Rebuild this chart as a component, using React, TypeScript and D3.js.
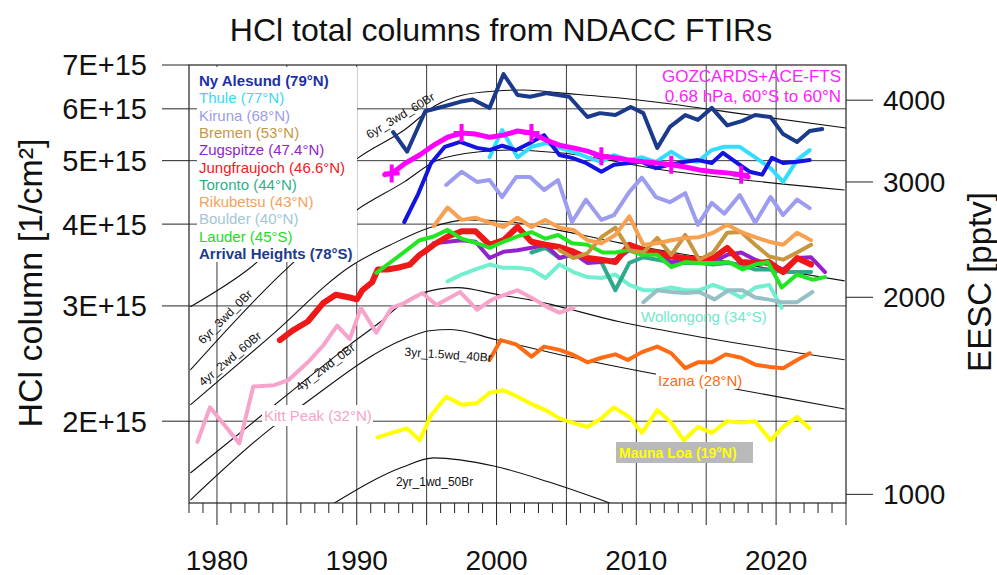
import React from "react";
import * as d3 from "d3";

const FONT = "'Liberation Sans', Arial, Helvetica, sans-serif";

// ---------- axes ----------
const yearLabels = [1980, 1990, 2000, 2010, 2020];
const gridYears = [1980, 1985, 1990, 1995, 2000, 2005, 2010, 2015, 2020];
const hclTicks = [2, 3, 4, 5, 6, 7]; // x 1E+15 molec/cm2
const hclGrid = [2, 3, 4, 5, 6];
const eescTicks = [1000, 2000, 3000, 4000];
const EESC_PER_HCL = 646.7; // right axis (pptv) per 1E+15 on left axis

// ---------- FTIR series (HCl total column, 1E+15 molec/cm2) ----------
const arrivalYears = [1992.6, 1993.6, 1994.9, 1996.2, 1997.4, 1998.3, 1999.5, 2000.5, 2001.5, 2002.4, 2003.6, 2005.2, 2006.5, 2007.4, 2008.5, 2009.6, 2010.5, 2011.5, 2012.4, 2013.5, 2014.4, 2015.4, 2016.5, 2017.6, 2018.5, 2019.6, 2020.5, 2021.5, 2022.4, 2023.3];
const arrivalHCl = [5.53, 5.16, 5.95, 6.05, 6.15, 6.2, 6.02, 6.78, 6.3, 6.26, 6.34, 6.26, 5.83, 5.91, 5.87, 6.04, 5.91, 5.23, 5.63, 5.87, 5.77, 6.02, 5.66, 5.75, 5.87, 5.83, 5.49, 5.34, 5.55, 5.59];

const nyYears = [1993.4, 1994.4, 1995.3, 1996.3, 1997.4, 1998.6, 1999.5, 2000.4, 2001.4, 2002.4, 2003.4, 2004.5, 2005.4, 2006.4, 2007.5, 2008.4, 2009.5, 2010.4, 2011.4, 2012.4, 2013.5, 2014.4, 2015.4, 2016.2, 2017.2, 2018.1, 2019.0, 2019.7, 2020.5, 2021.5, 2022.4];
const nyHCl = [4.03, 4.45, 4.95, 5.25, 5.34, 5.23, 5.19, 5.27, 5.19, 5.32, 5.47, 5.1, 5.05, 4.96, 4.81, 4.93, 4.96, 4.98, 4.87, 4.93, 4.98, 5.01, 4.96, 5.14, 4.96, 4.81, 4.76, 5.05, 4.96, 4.98, 5.01];

const thuleYears = [1999.5, 2000.4, 2001.5, 2002.5, 2003.6, 2004.5, 2005.7, 2006.6, 2007.5, 2008.4, 2009.5, 2010.4, 2011.4, 2012.5, 2013.5, 2014.4, 2015.4, 2016.3, 2017.4, 2018.5, 2019.6, 2020.5, 2021.5, 2022.4];
const thuleHCl = [5.06, 5.57, 5.06, 5.25, 5.32, 5.23, 5.14, 5.05, 4.98, 5.1, 5.01, 5.06, 4.98, 5.16, 5.01, 4.98, 5.19, 5.25, 5.25, 5.06, 4.87, 4.64, 5.01, 5.19];

const kirunaYears = [1996.4, 1997.5, 1998.6, 1999.5, 2000.4, 2001.4, 2002.4, 2003.4, 2004.4, 2005.4, 2006.4, 2007.5, 2008.4, 2009.5, 2010.4, 2011.4, 2012.4, 2013.5, 2014.4, 2015.4, 2016.3, 2017.4, 2018.5, 2019.6, 2020.5, 2021.5, 2022.4];
const kirunaHCl = [4.59, 4.81, 4.64, 4.67, 4.4, 4.72, 4.72, 4.51, 4.67, 4.03, 4.36, 4.06, 4.13, 4.48, 4.71, 4.4, 4.32, 4.46, 3.99, 4.31, 4.15, 4.43, 4.02, 4.4, 4.13, 4.36, 4.23];

const bremenYears = [2004.5, 2005.5, 2006.5, 2007.5, 2008.5, 2009.5, 2010.5, 2011.5, 2012.5, 2013.5, 2014.5, 2015.5, 2016.5, 2017.5, 2018.5, 2019.5, 2020.5, 2021.5, 2022.5];
const bremenHCl = [3.65, 3.55, 3.61, 3.82, 3.95, 3.65, 3.62, 3.81, 3.59, 3.85, 3.53, 3.62, 3.88, 3.89, 3.72, 3.57, 3.53, 3.62, 3.72];

const zugYears = [1995.5, 1996.5, 1997.5, 1998.5, 1999.5, 2000.5, 2001.5, 2002.5, 2003.5, 2004.5, 2005.5, 2006.5, 2007.5, 2008.5, 2009.5, 2010.5, 2011.5, 2012.5, 2013.5, 2014.5, 2015.5, 2016.5, 2017.5, 2018.5, 2019.5, 2020.5, 2021.5, 2022.5, 2023.5];
const zugHCl = [3.74, 3.76, 3.78, 3.76, 3.55, 3.63, 3.65, 3.68, 3.72, 3.55, 3.61, 3.49, 3.5, 3.53, 3.65, 3.62, 3.61, 3.5, 3.53, 3.55, 3.5, 3.59, 3.62, 3.53, 3.47, 3.41, 3.55, 3.56, 3.38];

const jfjYears = [1984.5, 1985.4, 1986.5, 1987.6, 1988.5, 1989.5, 1990.0, 1990.4, 1991.1, 1991.5, 1992.2, 1992.9, 1993.8, 1994.5, 1995.0, 1995.5, 1996.5, 1997.5, 1998.5, 1999.5, 2000.5, 2001.5, 2002.5, 2003.5, 2004.5, 2005.5, 2006.5, 2007.5, 2008.5, 2009.5, 2010.5, 2011.5, 2012.5, 2013.5, 2014.5, 2015.5, 2016.5, 2017.5, 2018.5, 2019.5, 2020.5, 2021.5, 2022.5];
const jfjHCl = [2.66, 2.75, 2.84, 3.03, 3.12, 3.09, 3.07, 3.17, 3.26, 3.41, 3.41, 3.43, 3.47, 3.59, 3.65, 3.72, 3.83, 3.9, 3.9, 3.72, 3.78, 3.96, 3.76, 3.72, 3.69, 3.63, 3.55, 3.53, 3.5, 3.72, 3.65, 3.62, 3.57, 3.55, 3.53, 3.55, 3.68, 3.5, 3.49, 3.5, 3.38, 3.55, 3.47];

const torontoYears = [2002.5, 2003.5, 2004.5, 2005.5, 2006.5, 2007.5, 2008.5, 2009.5, 2010.5, 2011.5, 2012.5, 2013.5, 2014.5, 2015.5, 2016.5, 2017.5, 2018.5, 2019.5, 2020.5, 2021.5, 2022.5];
const torontoHCl = [3.62, 3.68, 3.55, 3.59, 3.56, 3.5, 3.17, 3.49, 3.56, 3.53, 3.49, 3.49, 3.49, 3.47, 3.49, 3.47, 3.41, 3.41, 3.38, 3.38, 3.38];

const rikuYears = [1995.5, 1996.5, 1997.5, 1998.5, 1999.5, 2000.5, 2001.5, 2002.5, 2003.5, 2004.5, 2005.5, 2006.5, 2007.5, 2008.5, 2009.5, 2010.5, 2011.5, 2012.5, 2013.5, 2014.5, 2015.5, 2016.5, 2017.5, 2018.5, 2019.5, 2020.5, 2021.5, 2022.5];
const rikuHCl = [3.97, 4.24, 4.06, 4.09, 4.02, 3.96, 4.09, 3.96, 4.06, 3.95, 3.92, 3.78, 3.74, 3.85, 4.11, 3.72, 3.74, 3.78, 3.81, 3.82, 3.88, 3.99, 3.89, 3.82, 3.76, 3.72, 3.88, 3.78];

const boulderYears = [2010.5, 2011.5, 2012.5, 2013.5, 2014.5, 2015.6, 2016.6, 2017.6, 2018.5, 2019.4, 2020.4, 2021.5, 2022.6];
const boulderHCl = [3.04, 3.17, 3.15, 3.14, 3.15, 3.07, 3.17, 3.17, 3.09, 3.07, 3.04, 3.04, 3.15];

const lauderYears = [1991.4, 1992.9, 1994.5, 1995.5, 1996.5, 1997.5, 1998.6, 1999.5, 2000.5, 2001.5, 2002.5, 2003.5, 2004.4, 2005.4, 2006.5, 2007.6, 2008.5, 2009.4, 2010.4, 2011.5, 2012.5, 2013.5, 2014.4, 2015.6, 2016.6, 2017.6, 2018.5, 2019.4, 2020.4, 2021.5, 2022.6, 2023.5];
const lauderHCl = [3.37, 3.56, 3.78, 3.83, 3.92, 3.8, 3.74, 3.68, 3.76, 3.83, 3.89, 3.8, 3.85, 3.74, 3.72, 3.62, 3.62, 3.65, 3.59, 3.59, 3.44, 3.5, 3.49, 3.49, 3.5, 3.41, 3.47, 3.5, 3.2, 3.35, 3.29, 3.32];

const wollYears = [1996.5, 1997.5, 1998.5, 1999.5, 2000.5, 2001.5, 2002.5, 2003.5, 2004.5, 2005.5, 2006.5, 2007.5, 2008.5, 2009.5, 2010.5, 2011.5, 2012.5, 2013.5, 2014.5, 2015.5, 2016.5, 2017.5, 2018.5, 2019.5, 2020.4];
const wollHCl = [3.27, 3.35, 3.41, 3.47, 3.43, 3.43, 3.41, 3.31, 3.47, 3.38, 3.32, 3.31, 3.35, 3.23, 3.17, 3.17, 3.2, 3.17, 3.17, 3.23, 3.17, 3.09, 3.2, 3.23, 2.98];

const kittYears = [1978.6, 1979.5, 1981.6, 1982.6, 1984.1, 1985.1, 1986.5, 1987.6, 1988.6, 1989.5, 1990.3, 1991.4, 1992.5, 1993.4, 1994.7, 1995.7, 1997.4, 1998.6, 1999.7, 2001.5, 2002.6, 2003.6, 2004.5, 2005.5];
const kittHCl = [1.86, 2.1, 1.85, 2.26, 2.27, 2.31, 2.46, 2.61, 2.8, 2.67, 2.98, 2.73, 2.98, 3.03, 3.14, 3.01, 3.15, 2.96, 3.07, 3.17, 3.08, 2.99, 2.93, 2.98];

const izanaYears = [1999.5, 2000.3, 2001.4, 2002.5, 2003.4, 2004.5, 2005.4, 2006.5, 2007.5, 2008.5, 2009.4, 2010.4, 2011.5, 2012.5, 2013.5, 2014.4, 2015.4, 2016.4, 2017.5, 2018.5, 2019.6, 2020.5, 2021.5, 2022.4];
const izanaHCl = [2.48, 2.66, 2.62, 2.51, 2.6, 2.57, 2.53, 2.46, 2.5, 2.53, 2.48, 2.55, 2.6, 2.54, 2.41, 2.46, 2.46, 2.53, 2.5, 2.44, 2.42, 2.41, 2.48, 2.54];

const maunaYears = [1991.5, 1992.5, 1993.6, 1994.5, 1995.3, 1996.4, 1997.5, 1998.6, 1999.5, 2000.5, 2001.5, 2002.4, 2003.5, 2004.5, 2005.4, 2006.5, 2007.5, 2008.4, 2009.5, 2010.4, 2011.5, 2012.5, 2013.4, 2014.4, 2015.4, 2016.5, 2017.5, 2018.5, 2019.6, 2020.5, 2021.5, 2022.4];
const maunaHCl = [1.89, 1.92, 1.95, 1.87, 2.04, 2.18, 2.12, 2.13, 2.21, 2.23, 2.18, 2.13, 2.08, 2.02, 1.99, 1.96, 2.02, 2.1, 2.03, 1.92, 2.08, 1.99, 1.87, 1.96, 1.92, 2.0, 1.99, 2.0, 1.87, 1.96, 2.03, 1.95];

const gozYears = [1992.0, 1992.5, 1993.5, 1994.5, 1995.5, 1996.5, 1997.5, 1998.5, 1999.5, 2000.5, 2001.5, 2002.5, 2003.5, 2004.5, 2005.5, 2006.5, 2007.5, 2008.5, 2009.5, 2010.5, 2011.5, 2012.5, 2013.5, 2014.5, 2015.5, 2016.5, 2017.5, 2018.0];
const gozHCl = [4.76, 4.78, 4.96, 5.1, 5.28, 5.43, 5.51, 5.49, 5.43, 5.47, 5.55, 5.51, 5.38, 5.28, 5.23, 5.17, 5.08, 5.05, 5.01, 4.98, 4.96, 4.93, 4.89, 4.84, 4.81, 4.79, 4.76, 4.72];
const gozMarkerYears = [1992.5, 1997.5, 2002.5, 2007.5, 2012.5, 2017.5];

// ---------- EESC curves (pptv, right axis) ----------
const eesc6y60Years = [1978.1, 1982.2, 1990.1, 1993.4, 1995.7, 1997.6, 2000.0, 2001.9, 2004.7, 2009.5, 2011.9, 2018.1, 2025.0];
const eesc6y60 = [1934, 2203, 3266, 3602, 3933, 4074, 4132, 4146, 4100, 4016, 3961, 3797, 3628];
const eesc6y0Years = [1978.1, 1984.9, 1990.0, 1993.4, 1995.8, 1998.8, 2001.2, 2004.5, 2011.9, 2024.9];
const eesc6y0 = [1549, 2203, 2719, 3001, 3242, 3337, 3358, 3324, 3130, 2917];
const eesc4y60Years = [1978.1, 1983.8, 1989.7, 1992.4, 1995.2, 1997.9, 2001.0, 2004.3, 2008.8, 2014.5, 2024.9];
const eesc4y60 = [1370, 1741, 2241, 2404, 2554, 2626, 2606, 2535, 2422, 2305, 2119];
const eesc4y0Years = [1978.1, 1985.9, 1989.5, 1991.7, 1993.3, 1994.7, 1997.2, 2000.2, 2002.4, 2008.8, 2015.0, 2024.9];
const eesc4y0 = [1078, 1470, 1692, 1835, 1960, 2031, 2069, 2017, 1982, 1835, 1733, 1605];
const eesc3y40Years = [1978.1, 1984.0, 1985.9, 1993.3, 1995.2, 1996.7, 2000.0, 2005.2, 2016.7, 2024.9];
const eesc3y40 = [980, 1268, 1358, 1722, 1778, 1786, 1722, 1622, 1454, 1350];
const eesc2y50Years = [1988.4, 1993.3, 1995.5, 1999.8, 2003.7, 2008.1];
const eesc2y50 = [970, 1101, 1137, 1105, 1045, 970];

const eescLabels = ["6yr_3wd_60Br", "6yr_3wd_0Br", "4yr_2wd_60Br", "4yr_2wd_0Br", "3yr_1.5wd_40Br", "2yr_1wd_50Br"];
const eescLabelYears = [1990.9, 1979.0, 1979.0, 1985.9, 1993.4, 1992.8];
const eescLabelValues = [3490, 1692, 1460, 1434, 1628, 1030];
const eescLabelAngles = [-31, -45, -40, -37, 4, 0];

// ---------- legend ----------
const legendNames = ["Ny Alesund (79°N)", "Thule (77°N)", "Kiruna (68°N)", "Bremen (53°N)", "Zugspitze (47.4°N)", "Jungfraujoch (46.6°N)", "Toronto (44°N)", "Rikubetsu (43°N)", "Boulder (40°N)", "Lauder (45°S)", "Arrival Heights (78°S)"];
const legendColors = ["#1c2fa8", "#3ad8f6", "#9c9cec", "#c8963f", "#9125c8", "#ee2020", "#2eb08c", "#f4a25a", "#a3c6d6", "#22dc22", "#1c3a8c"];

export default function App() {
  const x = d3.scaleLinear().domain([1978, 2025]).range([189, 846]);
  const y = d3.scaleLog().domain([1.5, 7]).range([503, 65]);
  const yR = d3.scaleLog().domain([1.5 * EESC_PER_HCL, 7 * EESC_PER_HCL]).range([503, 65]);
  const [x0, x1] = x.range();
  const [yb, yt] = y.range();

  const lineL = d3.line<[number, number]>().x((d) => x(d[0])).y((d) => y(d[1])).curve(d3.curveLinear);
  const lineR = d3.line<[number, number]>().x((d) => x(d[0])).y((d) => yR(d[1])).curve(d3.curveMonotoneX);
  const zip = (a: number[], b: number[]) => a.map((v, i) => [v, b[i]] as [number, number]);

  const series = [
    { c: "#f7a3cb", w: 4, d: zip(kittYears, kittHCl) },
    { c: "#ffff00", w: 4, d: zip(maunaYears, maunaHCl) },
    { c: "#ff6a12", w: 4, d: zip(izanaYears, izanaHCl) },
    { c: "#72efd0", w: 4, d: zip(wollYears, wollHCl) },
    { c: "#97bfc6", w: 4, d: zip(boulderYears, boulderHCl) },
    { c: "#2fa98c", w: 4, d: zip(torontoYears, torontoHCl) },
    { c: "#9422cc", w: 4, d: zip(zugYears, zugHCl) },
    { c: "#ee1818", w: 6, d: zip(jfjYears, jfjHCl) },
    { c: "#22e622", w: 4, d: zip(lauderYears, lauderHCl) },
    { c: "#c8963f", w: 4, d: zip(bremenYears, bremenHCl) },
    { c: "#f7a04f", w: 4, d: zip(rikuYears, rikuHCl) },
    { c: "#9c9cf0", w: 4, d: zip(kirunaYears, kirunaHCl) },
    { c: "#33ddff", w: 4, d: zip(thuleYears, thuleHCl) },
    { c: "#1414e0", w: 4, d: zip(nyYears, nyHCl) },
    { c: "#ff00ff", w: 5, d: zip(gozYears, gozHCl) },
    { c: "#1c3a8c", w: 4, d: zip(arrivalYears, arrivalHCl) },
  ];

  const eescCurves = [
    zip(eesc6y60Years, eesc6y60),
    zip(eesc6y0Years, eesc6y0),
    zip(eesc4y60Years, eesc4y60),
    zip(eesc4y0Years, eesc4y0),
    zip(eesc3y40Years, eesc3y40),
    zip(eesc2y50Years, eesc2y50),
  ];

  const allYears = d3.range(1978, 2026);

  return (
    <svg width={997} height={575} style={{ position: "absolute", left: 0, top: 0, background: "#fff" }} fontFamily={FONT}>
      <defs>
        <clipPath id="plot">
          <rect x={x0} y={yt} width={x1 - x0} height={yb - yt} />
        </clipPath>
      </defs>
      <rect x={0} y={0} width={997} height={575} fill="#fff" />

      {/* grid */}
      {gridYears.map((g) => (
        <line key={"gx" + g} x1={x(g)} x2={x(g)} y1={yt} y2={yb} stroke="#3a3a3a" strokeWidth={1} />
      ))}
      {hclGrid.map((g) => (
        <line key={"gy" + g} x1={x0} x2={x1} y1={y(g)} y2={y(g)} stroke="#3a3a3a" strokeWidth={1} />
      ))}

      {/* EESC curves */}
      <g clipPath="url(#plot)">
        {eescCurves.map((d, i) => (
          <path key={"e" + i} d={lineR(d) || ""} fill="none" stroke="#111" strokeWidth={1.1} />
        ))}
      </g>

      {/* in-plot label boxes hiding curves */}
      <rect x={262} y={405} width={111} height={21} fill="#fff" />
      <rect x={656} y={372} width={89} height={17} fill="#fff" />

      {/* FTIR series */}
      <g clipPath="url(#plot)">
        {series.map((s, i) => (
          <path key={"s" + i} d={lineL(s.d) || ""} fill="none" stroke={s.c} strokeWidth={s.w} strokeLinejoin="round" strokeLinecap="round" />
        ))}
        {gozMarkerYears.map((yr) => {
          const v = gozHCl[gozYears.indexOf(yr)];
          const cx = x(yr), cy = y(v);
          return <path key={"m" + yr} d={`M${cx - 8},${cy}H${cx + 8}M${cx},${cy - 9}V${cy + 9}`} stroke="#ff00ff" strokeWidth={4} />;
        })}
      </g>

      {/* EESC curve labels */}
      {eescLabels.map((t, i) => {
        const lx = x(eescLabelYears[i]);
        const ly = yR(eescLabelValues[i]);
        return (
          <text key={"el" + i} x={lx} y={ly} fontSize={12} fill="#111" transform={`rotate(${eescLabelAngles[i]},${lx},${ly})`}>
            {t}
          </text>
        );
      })}

      {/* legend box */}
      <rect x={197} y={67} width={160} height={195} fill="#fff" />
      {legendNames.map((n, i) => (
        <text key={"lg" + i} x={199} y={86 + i * 17.3} fontSize={15} fill={legendColors[i]} fontWeight={i === 0 || i === 10 ? "bold" : "normal"}>
          {n}
        </text>
      ))}

      {/* station labels */}
      <text x={264} y={421} fontSize={15} fill="#f5a3c8">Kitt Peak (32°N)</text>
      <text x={641} y={322} fontSize={15} fill="#6fe8cc">Wollongong (34°S)</text>
      <text x={658} y={386} fontSize={15} fill="#ff6a12">Izana (28°N)</text>
      <rect x={616} y={442} width={137} height={21} fill="#b9b9b9" />
      <text x={619} y={458} fontSize={14} fontWeight="bold" fill="#ffff00">Mauna Loa (19°N)</text>
      <text x={841} y={82} fontSize={17} fill="#ff22ff" textAnchor="end">GOZCARDS+ACE-FTS</text>
      <text x={841} y={102} fontSize={17} fill="#ff22ff" textAnchor="end">0.68 hPa, 60°S to 60°N</text>

      {/* frame */}
      <rect x={x0} y={yt} width={x1 - x0} height={yb - yt} fill="none" stroke="#222" strokeWidth={1.2} />

      {/* x axis ticks */}
      {allYears.map((yr) => (
        <line key={"xt" + yr} x1={x(yr)} x2={x(yr)} y1={yb} y2={yb + (yr % 5 === 0 ? 22 : 10)} stroke="#222" strokeWidth={1} />
      ))}
      {yearLabels.map((yr) => (
        <text key={"xl" + yr} x={x(yr)} y={570} fontSize={28} textAnchor="middle" fill="#111">{yr}</text>
      ))}

      {/* left axis */}
      {hclTicks.map((v) => (
        <g key={"yl" + v}>
          <line x1={x0 - 27} x2={x0} y1={y(v)} y2={y(v)} stroke="#222" strokeWidth={1} />
          <text x={147} y={y(v)} dy="0.36em" fontSize={29} textAnchor="end" fill="#111">{`${v}E+15`}</text>
        </g>
      ))}
      {/* right axis */}
      {eescTicks.map((v) => (
        <g key={"yr" + v}>
          <line x1={x1} x2={x1 + 27} y1={yR(v)} y2={yR(v)} stroke="#222" strokeWidth={1} />
          <text x={883} y={yR(v)} dy="0.36em" fontSize={28} textAnchor="start" fill="#111">{v}</text>
        </g>
      ))}

      {/* titles */}
      <text x={501} y={41} fontSize={32} textAnchor="middle" fill="#111">HCl total columns from NDACC FTIRs</text>
      <text transform="translate(42,283) rotate(-90)" fontSize={34} textAnchor="middle" fill="#111">HCl column [1/cm²]</text>
      <text transform="translate(991,282) rotate(-90)" fontSize={33} textAnchor="middle" fill="#111">EESC [pptv]</text>
    </svg>
  );
}
